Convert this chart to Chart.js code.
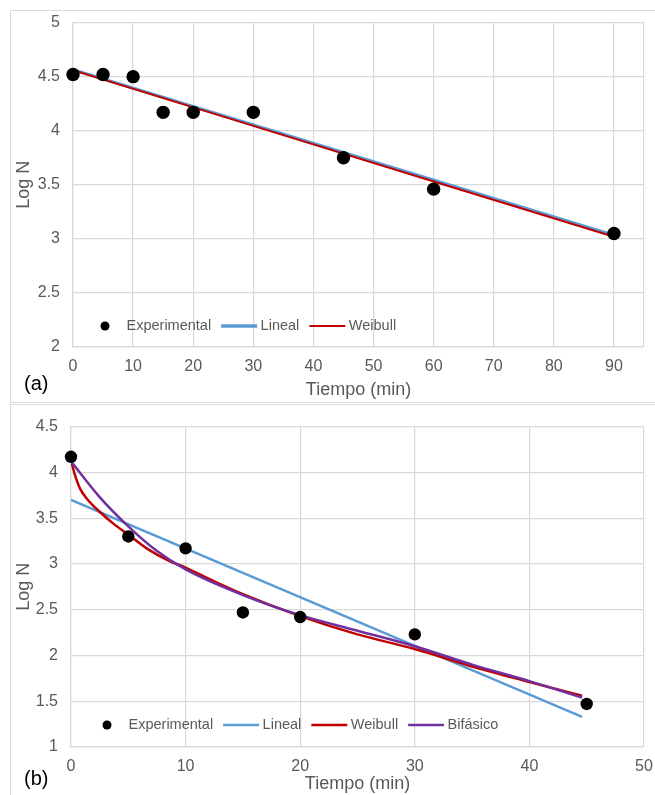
<!DOCTYPE html>
<html>
<head>
<meta charset="utf-8">
<script src="https://cdn.jsdelivr.net/npm/chart.js@4.4.1/dist/chart.umd.min.js"></script>
<style>
  html, body { margin: 0; padding: 0; background: #fff; }
  body { width: 655px; height: 795px; position: relative; overflow: hidden; font-family: "Liberation Sans", Arial, sans-serif; }
  .panel { position: absolute; left: 10px; width: 660px; border: 1px solid #d9d9d9; box-sizing: border-box; }
  #panelA { top: 10px; height: 393px; }
  #panelB { top: 404px; height: 420px; }
  canvas { position: absolute; left: 0; }
  #chartA { top: 0; }
  #chartB { top: 404px; }
  .tag { position: absolute; left: 24px; font-size: 20px; line-height: 20px; color: #000; }
</style>
</head>
<body>
<div class="panel" id="panelA"></div>
<div class="panel" id="panelB"></div>
<canvas id="chartA" width="655" height="402" style="width:655px;height:402px"></canvas>
<canvas id="chartB" width="655" height="391" style="width:655px;height:391px"></canvas>
<div class="tag" style="top:373px">(a)</div>
<div class="tag" style="top:768px">(b)</div>

<script>
// ---------------- datos (a) ----------------
const tiemposA = [0, 5, 10, 15, 20, 30, 45, 60, 90];
const logNA = [4.52, 4.52, 4.50, 4.17, 4.17, 4.17, 3.75, 3.46, 3.05];
const linealTA = [0, 90];
const linealA = [4.565, 3.035];
const weibullTA = [0, 30, 60, 90];
const weibullA = [4.56, 4.045, 3.53, 3.02];
const ticksXA = [0, 10, 20, 30, 40, 50, 60, 70, 80, 90];
const xMaxA = 95;

// ---------------- datos (b) ----------------
const tiemposB = [0, 5, 10, 15, 20, 30, 45];
const logNB = [4.17, 3.30, 3.17, 2.47, 2.42, 2.23, 1.47];
const linealTB = [0, 44.6];
const linealB = [3.70, 1.33];
const weibullTB = [0, 0.35, 0.8, 1.4, 2.5, 3.7, 5, 6.6, 8.6, 10, 12.5, 15, 20, 25, 30, 35, 40, 44.6];
const weibullB = [4.13, 3.97, 3.82, 3.71, 3.57, 3.44, 3.32, 3.17, 3.03, 2.96, 2.81, 2.67, 2.43, 2.23, 2.07, 1.88, 1.71, 1.56];
const bifasicoTB = [0, 2.5, 5, 7.5, 10, 15, 20, 25, 30, 35, 40, 44.6];
const bifasicoB = [4.12, 3.73, 3.41, 3.14, 2.94, 2.66, 2.44, 2.27, 2.10, 1.90, 1.72, 1.54];
const ticksXB = [0, 10, 20, 30, 40, 50];
const xMaxB = 50;

Chart.defaults.font.family = '"Liberation Sans", Arial, sans-serif';
Chart.defaults.color = '#595959';

const pts = (xs, ys) => xs.map((x, i) => ({ x: x, y: ys[i] }));

// leyenda dibujada dentro del area del grafico
const legendInside = {
  id: 'legendInside',
  afterDraw(chart, args, opts) {
    const ctx = chart.ctx;
    let x = opts.x;
    const y = opts.y;
    ctx.save();
    ctx.font = '14.5px "Liberation Sans", Arial, sans-serif';
    ctx.textBaseline = 'middle';
    chart.data.datasets.forEach(ds => {
      if (!ds.showLine) {
        ctx.beginPath();
        ctx.arc(x + 18, y, 4.5, 0, Math.PI * 2);
        ctx.fillStyle = '#000';
        ctx.fill();
      } else {
        ctx.beginPath();
        ctx.moveTo(x, y);
        ctx.lineTo(x + 36, y);
        ctx.strokeStyle = ds.borderColor;
        ctx.lineWidth = ds.legendWidth || ds.borderWidth;
        ctx.stroke();
      }
      x += 39.5;
      ctx.fillStyle = '#595959';
      ctx.fillText(ds.label, x, y);
      x += ctx.measureText(ds.label).width + 10;
    });
    ctx.restore();
  }
};

function makeChart(id, cfg) {
  const grid = { color: '#d9d9d9', lineWidth: 1.25, drawTicks: false };
  // marcas del eje x + borde derecho en el maximo
  const xGrid = cfg.xTicks.includes(cfg.xMax) ? cfg.xTicks : cfg.xTicks.concat([cfg.xMax]);
  return new Chart(document.getElementById(id), {
    type: 'scatter',
    data: { datasets: cfg.datasets },
    options: {
      responsive: false,
      animation: false,
      layout: { padding: { left: 0, right: 11, top: cfg.top, bottom: 0 } },
      plugins: {
        legend: { display: false },
        tooltip: { enabled: false },
        legendInside: cfg.legend
      },
      scales: {
        x: {
          type: 'linear',
          min: 0,
          max: cfg.xMax,
          grid: grid,
          border: { color: '#d9d9d9', width: 1.25 },
          afterBuildTicks: s => { s.ticks = xGrid.map(v => ({ value: v })); },
          ticks: {
            padding: 10,
            font: { size: 16 },
            maxRotation: 0,
            autoSkip: false,
            callback: v => cfg.xTicks.includes(v) ? String(v) : ''
          },
          title: { display: true, text: 'Tiempo (min)', font: { size: 18 }, padding: { top: 0, bottom: cfg.titlePad } },
          afterFit: s => { s.height = cfg.xHeight; s.paddingLeft = 0; s.paddingRight = 0; }
        },
        y: {
          min: cfg.yMin,
          max: cfg.yMax,
          grid: grid,
          border: { color: '#d9d9d9', width: 1.25 },
          ticks: { stepSize: 0.5, padding: 13, font: { size: 16 }, callback: v => String(+v.toFixed(2)) },
          title: { display: true, text: 'Log N', font: { size: 18 }, padding: { top: 13, bottom: 0 } },
          afterFit: s => { s.width = cfg.yWidth; }
        }
      }
    },
    plugins: [legendInside]
  });
}

makeChart('chartA', {
  top: 19, xMax: xMaxA, xTicks: ticksXA, xHeight: 55, yWidth: 73, yMin: 2, yMax: 5, titlePad: 1,
  legend: { x: 87, y: 326 },
  datasets: [
    { label: 'Experimental', data: pts(tiemposA, logNA), showLine: false, pointRadius: 6.7,
      backgroundColor: '#000', borderColor: '#000', borderWidth: 0, clip: false, order: 0 },
    { label: 'Lineal', data: pts(linealTA, linealA), showLine: true, pointRadius: 0,
      borderColor: '#5b9bd5', borderWidth: 3, legendWidth: 3.5, order: 3 },
    { label: 'Weibull', data: pts(weibullTA, weibullA), showLine: true, pointRadius: 0,
      borderColor: '#c00000', borderWidth: 2, order: 2 }
  ]
});

makeChart('chartB', {
  top: 20, xMax: xMaxB, xTicks: ticksXB, xHeight: 48, yWidth: 71, yMin: 1, yMax: 4.5, titlePad: 0,
  legend: { x: 89, y: 725 - 404 },
  datasets: [
    { label: 'Experimental', data: pts(tiemposB, logNB), showLine: false, pointRadius: 6.2,
      backgroundColor: '#000', borderColor: '#000', borderWidth: 0, clip: false, order: 0 },
    { label: 'Lineal', data: pts(linealTB, linealB), showLine: true, pointRadius: 0,
      borderColor: '#5b9bd5', borderWidth: 2.5, order: 4 },
    { label: 'Weibull', data: pts(weibullTB, weibullB), showLine: true, pointRadius: 0,
      borderColor: '#c00000', borderWidth: 2.5, cubicInterpolationMode: 'monotone', order: 3 },
    { label: 'Bifásico', data: pts(bifasicoTB, bifasicoB), showLine: true, pointRadius: 0,
      borderColor: '#7030a0', borderWidth: 2.5, cubicInterpolationMode: 'monotone', order: 2 }
  ]
});
</script>
</body>
</html>
